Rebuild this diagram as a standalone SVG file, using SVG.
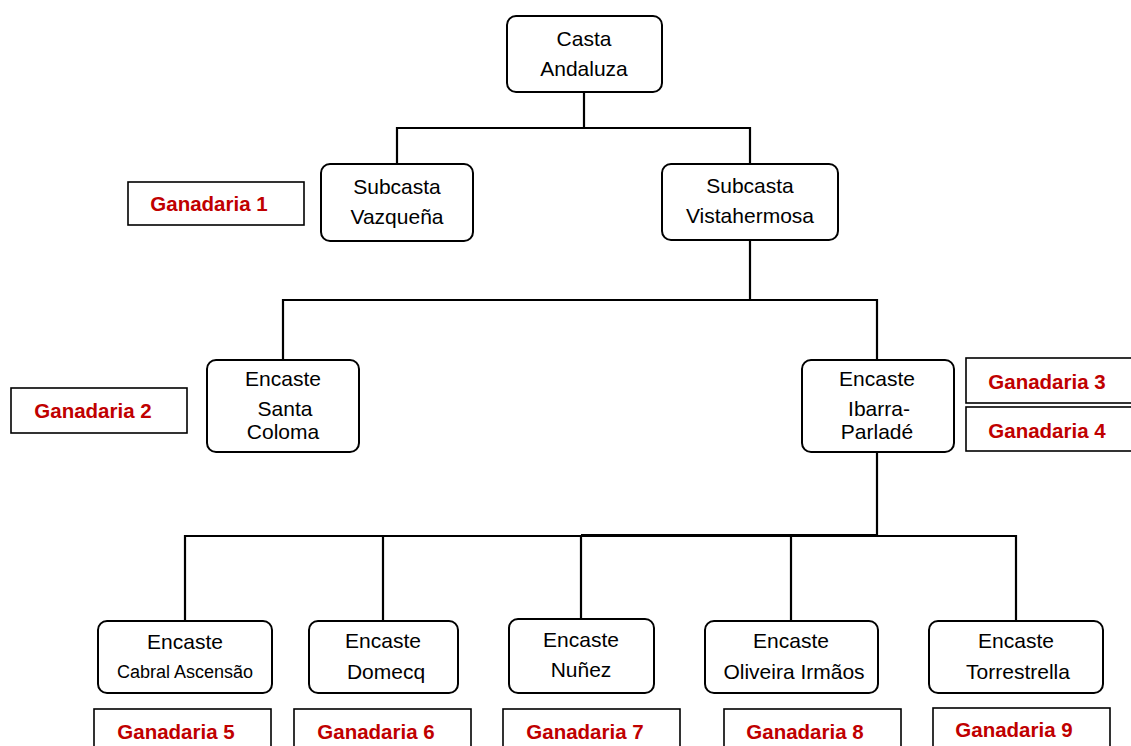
<svg xmlns="http://www.w3.org/2000/svg" width="1131" height="746" viewBox="0 0 1131 746">
<style>
.node{fill:#fff;stroke:#000;stroke-width:2}
.gbox{fill:#fff;stroke:#000;stroke-width:1.6}
.t{font-family:"Liberation Sans",Arial,sans-serif;font-size:21px;fill:#000;text-anchor:middle}
.ts{font-size:18px}
.g{font-family:"Liberation Sans",Arial,sans-serif;font-size:20.5px;font-weight:bold;fill:#c00000;text-anchor:middle}
.c{fill:none;stroke:#000;stroke-width:2.2}
</style>
<rect width="1131" height="746" fill="#fff"/>
<g id="connectors">
<path class="c" d="M584,92V128M397,164V128H750V164"/>
<path class="c" d="M750,240V300M283,360V300H877V360"/>
<path class="c" d="M877,452V536M185,621V536H1016V621M383,536V621M581,536V619M791,536V621"/>
<path class="c" d="M581,535H877" stroke-width="3"/>
</g>
<g id="n-casta"><rect class="node" x="507" y="16" width="155" height="76" rx="9"/><text class="t" x="584" y="46">Casta</text><text class="t" x="584" y="76">Andaluza</text></g>
<g id="n-vazquena"><rect class="node" x="321" y="164" width="152" height="77" rx="9"/><text class="t" x="397" y="194">Subcasta</text><text class="t" x="397" y="224">Vazqueña</text></g>
<g id="n-vistahermosa"><rect class="node" x="662" y="164" width="176" height="76" rx="9"/><text class="t" x="750" y="193">Subcasta</text><text class="t" x="750" y="223">Vistahermosa</text></g>
<g id="g1"><rect class="gbox" x="128" y="182" width="176" height="43"/><text class="g" x="209" y="211">Ganadaria 1</text></g>
<g id="n-santacoloma"><rect class="node" x="207" y="360" width="152" height="92" rx="9"/><text class="t" x="283" y="386">Encaste</text><text class="t" x="285" y="416">Santa</text><text class="t" x="283" y="439">Coloma</text></g>
<g id="g2"><rect class="gbox" x="11" y="388" width="176" height="45"/><text class="g" x="93" y="418">Ganadaria 2</text></g>
<g id="n-ibarra"><rect class="node" x="802" y="360" width="152" height="92" rx="9"/><text class="t" x="877" y="386">Encaste</text><text class="t" x="879" y="416">Ibarra-</text><text class="t" x="877" y="439">Parladé</text></g>
<g id="g3"><rect class="gbox" x="966" y="358" width="170" height="45"/><text class="g" x="1047" y="389">Ganadaria 3</text></g>
<g id="g4"><rect class="gbox" x="966" y="407" width="170" height="44"/><text class="g" x="1047" y="438">Ganadaria 4</text></g>
<g id="n-cabral"><rect class="node" x="98" y="621" width="174" height="72" rx="9"/><text class="t" x="185" y="649">Encaste</text><text class="t ts" x="185" y="678">Cabral Ascensão</text></g>
<g id="n-domecq"><rect class="node" x="309" y="621" width="149" height="72" rx="9"/><text class="t" x="383" y="648">Encaste</text><text class="t" x="386" y="679">Domecq</text></g>
<g id="n-nunez"><rect class="node" x="509" y="619" width="145" height="74" rx="9"/><text class="t" x="581" y="647">Encaste</text><text class="t" x="581" y="677">Nuñez</text></g>
<g id="n-oliveira"><rect class="node" x="705" y="621" width="173" height="72" rx="9"/><text class="t" x="791" y="648">Encaste</text><text class="t" x="794" y="679">Oliveira Irmãos</text></g>
<g id="n-torrestrella"><rect class="node" x="929" y="621" width="174" height="72" rx="9"/><text class="t" x="1016" y="648">Encaste</text><text class="t" x="1018" y="679">Torrestrella</text></g>
<g id="g5"><rect class="gbox" x="94" y="709" width="177" height="45"/><text class="g" x="176" y="739">Ganadaria 5</text></g>
<g id="g6"><rect class="gbox" x="294" y="709" width="177" height="45"/><text class="g" x="376" y="739">Ganadaria 6</text></g>
<g id="g7"><rect class="gbox" x="503" y="709" width="177" height="45"/><text class="g" x="585" y="739">Ganadaria 7</text></g>
<g id="g8"><rect class="gbox" x="724" y="709" width="177" height="45"/><text class="g" x="805" y="739">Ganadaria 8</text></g>
<g id="g9"><rect class="gbox" x="933" y="708" width="177" height="46"/><text class="g" x="1014" y="737">Ganadaria 9</text></g>
</svg>
